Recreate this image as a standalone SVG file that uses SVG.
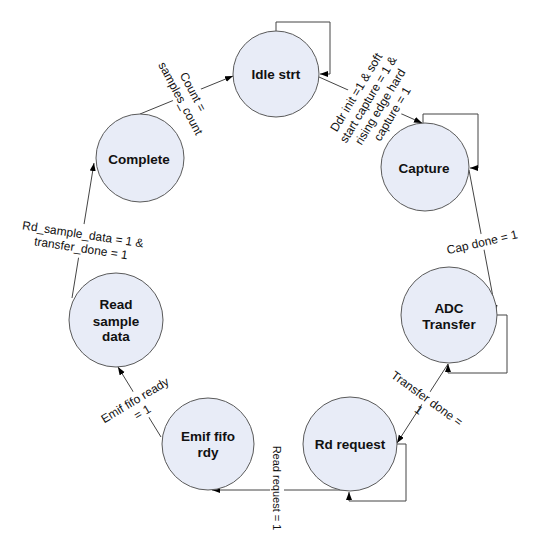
<svg xmlns="http://www.w3.org/2000/svg" width="549" height="543" viewBox="0 0 549 543">
<style>
.st{fill:#E8ECF7;stroke:#5a5a5a;stroke-width:1}
.nt{font-family:"Liberation Sans",Arial,sans-serif;font-weight:bold;font-size:13.5px;fill:#111;text-anchor:middle}
.lb{font-family:"Liberation Sans",Arial,sans-serif;font-size:12px;fill:#111;text-anchor:middle}
.cn{fill:none;stroke:#444;stroke-width:1}
.bg{fill:#fff}
</style>
<defs>
<marker id="ah" markerUnits="userSpaceOnUse" markerWidth="9" markerHeight="7" refX="8" refY="3" orient="auto">
<path d="M0,0 L8,3 L0,6 z" fill="#000"/>
</marker>
</defs>
<rect width="549" height="543" fill="#fff"/>
<g id="connectors">
<path class="cn" d="M140,114 L233,76" marker-end="url(#ah)"/>
<path class="cn" d="M319,77 L422,123" marker-end="url(#ah)"/>
<path class="cn" d="M469,170 L496,313" marker-end="url(#ah)"/>
<path class="cn" d="M448,364 L397,443" marker-end="url(#ah)"/>
<path class="cn" d="M347,490 L212,490" marker-end="url(#ah)"/>
<path class="cn" d="M161,437 L118,367" marker-end="url(#ah)"/>
<path class="cn" d="M72,298 L94,163" marker-end="url(#ah)"/>
<path class="cn" d="M276,31 V22 H330 V74 H320" marker-end="url(#ah)"/>
<path class="cn" d="M423,123 V114 H478 V168 H470" marker-end="url(#ah)"/>
<path class="cn" d="M497,315 H507 V373 H448 V364" marker-end="url(#ah)"/>
<path class="cn" d="M397,444 H406 V501 H349 V492" marker-end="url(#ah)"/>
</g>
<g id="labels">
<g transform="translate(187,95) rotate(62)">
<rect class="bg" x="-42" y="-15" width="84" height="30"/>
<text class="lb" x="0" y="-2.7">Count =</text>
<text class="lb" x="0" y="11.3">samples_count</text>
</g>
<g transform="translate(374,103) rotate(-59)">
<rect class="bg" x="-55" y="-29" width="110" height="58"/>
<text class="lb" x="0" y="-16.7">Ddr init =1 &amp; soft</text>
<text class="lb" x="0" y="-2.7">start capture = 1 &amp;</text>
<text class="lb" x="0" y="11.3">rising edge hard</text>
<text class="lb" x="0" y="25.3">capture = 1</text>
</g>
<g transform="translate(482,242) rotate(-13)">
<rect class="bg" x="-38" y="-8" width="76" height="16"/>
<text class="lb" x="0" y="4.3">Cap done = 1</text>
</g>
<g transform="translate(423,404) rotate(36)">
<rect class="bg" x="-45" y="-14" width="90" height="15"/>
<text class="lb" x="0" y="-2.7">Transfer done =</text>
<text class="lb" x="0" y="11.3">1</text>
</g>
<g transform="translate(277,488) rotate(90)">
<rect class="bg" x="-48" y="-7" width="96" height="14"/>
<text class="lb" x="0" y="4" style="font-size:11px">Read request = 1</text>
</g>
<g transform="translate(138.5,406) rotate(-31)">
<rect class="bg" x="-40" y="-15" width="80" height="30"/>
<text class="lb" x="0" y="-2.7">Emif fifo ready</text>
<text class="lb" x="0" y="11.3">= 1</text>
</g>
<g transform="translate(82,241) rotate(8.5)">
<rect class="bg" x="-63" y="-17" width="126" height="34"/>
<text class="lb" x="0" y="-2.7">Rd_sample_data = 1 &amp;</text>
<text class="lb" x="0" y="11.3">transfer_done = 1</text>
</g>
</g>
<g id="idle">
<circle class="st" cx="276" cy="74" r="43"/>
<text class="nt" x="276" y="79">Idle strt</text>
</g>
<g id="capture">
<circle class="st" cx="425" cy="167" r="44"/>
<text class="nt" x="424" y="172.5">Capture</text>
</g>
<g id="adc">
<circle class="st" cx="449" cy="315" r="48"/>
<text class="nt" x="449" y="312.5">ADC</text>
<text class="nt" x="449" y="328.5">Transfer</text>
</g>
<g id="rdrequest">
<circle class="st" cx="350" cy="444" r="47"/>
<text class="nt" x="350" y="449">Rd request</text>
</g>
<g id="emif">
<circle class="st" cx="208" cy="444" r="46"/>
<text class="nt" x="208" y="441">Emif fifo</text>
<text class="nt" x="208" y="457">rdy</text>
</g>
<g id="readsample">
<circle class="st" cx="116" cy="320" r="47"/>
<text class="nt" x="116" y="309">Read</text>
<text class="nt" x="116" y="325.5">sample</text>
<text class="nt" x="116" y="341">data</text>
</g>
<g id="complete">
<circle class="st" cx="140" cy="158" r="44"/>
<text class="nt" x="139" y="163.5">Complete</text>
</g>
</svg>
